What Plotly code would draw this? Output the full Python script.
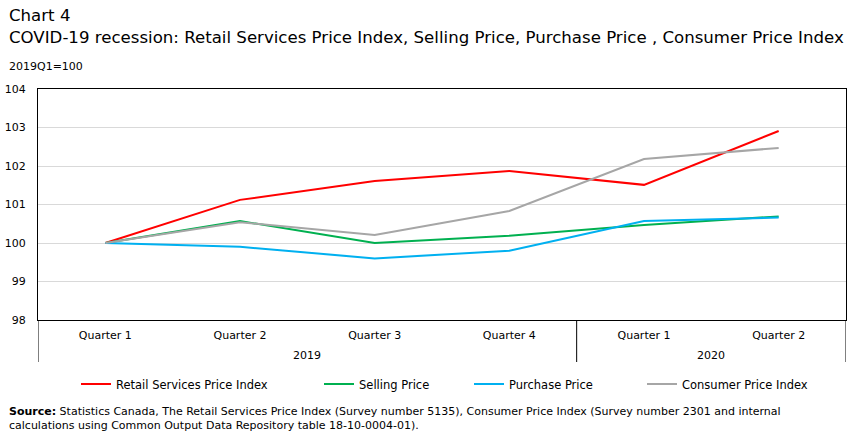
import plotly.graph_objects as go

years = ["2019", "2019", "2019", "2019", "2020", "2020"]
quarters = ["Quarter 1", "Quarter 2", "Quarter 3", "Quarter 4", "Quarter 1", "Quarter 2"]

retail = [100.0, 101.12, 101.61, 101.87, 101.51, 102.91]
selling = [100.0, 100.57, 100.0, 100.19, 100.47, 100.69]
purchase = [100.0, 99.90, 99.60, 99.80, 100.57, 100.66]
cpi = [100.0, 100.54, 100.21, 100.83, 102.18, 102.47]

series_names = ["Retail Services Price Index", "Selling Price", "Purchase Price", "Consumer Price Index"]
series_values = [retail, selling, purchase, cpi]
colors = ["#ff0000", "#00b050", "#00b0f0", "#a6a6a6"]

y_ticks = [98, 99, 100, 101, 102, 103, 104]

FONT = "DejaVu Sans"
W, H = 856, 436
L, R, T, B = 38, 10, 89, 116
PW, PH = W - L - R, H - T - B


def px(x):
    return (x - L) / PW


def py(y):
    return (H - B - y) / PH


x_keys = [f"{y} {q}" for y, q in zip(years, quarters)]

fig = go.Figure()
legend_ids = ["legend", "legend2", "legend3", "legend4"]
legend_x = [82, 325, 475, 648]
for name, vals, col, lid in zip(series_names, series_values, colors, legend_ids):
    fig.add_trace(go.Scatter(
        x=x_keys, y=vals, mode="lines", name=name,
        line=dict(color=col, width=2), legend=lid,
    ))

layout_legends = {}
for lid, lx in zip(legend_ids, legend_x):
    layout_legends[lid] = dict(
        orientation="h", xref="container", yref="container",
        x=(lx - 6) / W, xanchor="left", y=1 - 384 / H, yanchor="middle",
        font=dict(family=FONT, size=11.5, color="black"), itemwidth=30,
        bgcolor="rgba(0,0,0,0)",
    )

fig.update_layout(
    width=W, height=H,
    margin=dict(l=L, r=R, t=T, b=B, autoexpand=False),
    paper_bgcolor="white", plot_bgcolor="white",
    font=dict(family=FONT, size=11, color="black"),
    showlegend=True,
    **layout_legends,
)

fig.update_xaxes(
    type="category", range=[-0.5, len(x_keys) - 0.5],
    tickvals=x_keys, ticktext=quarters, automargin=False,
    showline=True, linecolor="black", linewidth=1, mirror=True,
    showgrid=False, ticks="",
    tickfont=dict(family=FONT, size=11, color="black"), ticklabelstandoff=5,
)
fig.update_yaxes(
    range=[98, 104], tickvals=y_ticks, showline=True, linecolor="black", linewidth=1, mirror=True,
    showgrid=True, gridcolor="#d9d9d9", gridwidth=1, ticks="", zeroline=False, automargin=False,
    tickfont=dict(family=FONT, size=11, color="black"), ticklabelstandoff=9,
)

# year group labels and dividers
groups = []
for i, yv in enumerate(years):
    if not groups or groups[-1][0] != yv:
        groups.append([yv, i, i])
    else:
        groups[-1][2] = i
div_bottom = py(362)
for yv, i0, i1 in groups:
    fig.add_annotation(text=yv, x=(i0 + i1) / 2, y=py(355), xref="x", yref="paper", showarrow=False,
                       xanchor="center", yanchor="middle", font=dict(family=FONT, size=11, color="black"))
    fig.add_shape(type="line", xref="x", yref="paper", x0=i0 - 0.5, x1=i0 - 0.5, y0=0, y1=div_bottom,
                  line=dict(color="black", width=1))
last = groups[-1][2]
fig.add_shape(type="line", xref="x", yref="paper", x0=last + 0.5, x1=last + 0.5, y0=0, y1=div_bottom,
              line=dict(color="black", width=1))

fig.add_annotation(text="Chart 4", x=px(7), y=py(16), xref="paper", yref="paper", showarrow=False,
                   xanchor="left", yanchor="middle", font=dict(family=FONT, size=16.6, color="black"))
fig.add_annotation(text="COVID-19 recession: Retail Services Price Index, Selling Price, Purchase Price , Consumer Price Index",
                   x=px(7), y=py(37), xref="paper", yref="paper", showarrow=False,
                   xanchor="left", yanchor="middle", font=dict(family=FONT, size=16.6, color="black"))
fig.add_annotation(text="2019Q1=100", x=px(7), y=py(67), xref="paper", yref="paper", showarrow=False,
                   xanchor="left", yanchor="middle", font=dict(family=FONT, size=11, color="black"))
fig.add_annotation(
    text="<b>Source:</b> Statistics Canada, The Retail Services Price Index (Survey number 5135), Consumer Price Index (Survey number 2301 and internal<br>calculations using Common Output Data Repository table 18-10-0004-01).",
    x=px(7), y=py(418), xref="paper", yref="paper", showarrow=False, align="left",
    xanchor="left", yanchor="middle", font=dict(family=FONT, size=11, color="black"))

fig.write_html("out.html")
